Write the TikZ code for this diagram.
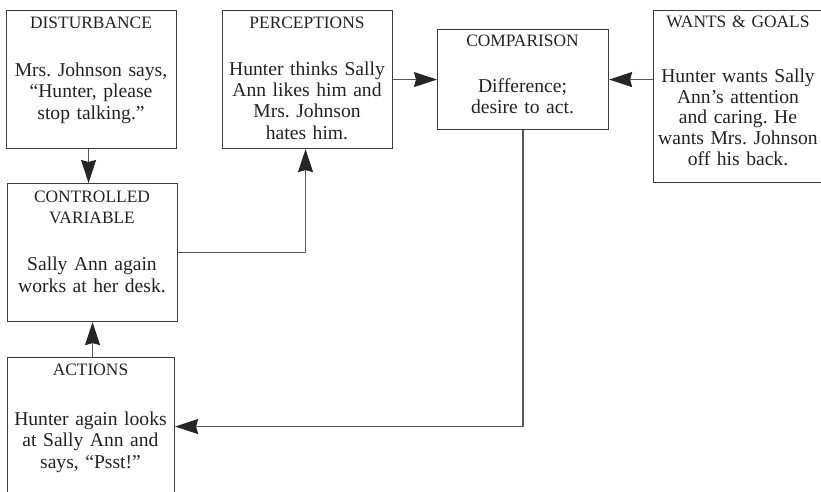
\documentclass[tikz,border=0pt]{standalone}
\usepackage{fontspec}
\setmainfont{Liberation Serif}
\usetikzlibrary{arrows.meta,calc}
\definecolor{txt}{HTML}{222222}
\definecolor{boxln}{HTML}{3C3C3C}
\definecolor{conn}{HTML}{5A5A5A}
\definecolor{tipc}{HTML}{262626}
\frenchspacing
\tikzset{
  box/.style={draw=boxln, line width=1.1pt, rectangle, inner sep=0pt, anchor=north west},
  ttl/.style={text=txt, text width=200pt, align=center, anchor=base, inner sep=0pt,
    font=\frenchspacing\fontsize{17.4}{21}\selectfont},
  bodytxt/.style={text=txt, text width=200pt, align=center, anchor=base, inner sep=0pt,
    font=\frenchspacing\fontsize{19.6}{21.6}\selectfont},
  arr/.style={draw=conn, line width=1.4pt,
    -{Stealth[length=23pt,width=15pt,inset=2pt,fill=tipc,color=tipc]}},
}
\begin{document}
\begin{tikzpicture}[x=1pt,y=-1pt]
\useasboundingbox (0,0) rectangle (821,491);
\clip (0,0) rectangle (821,491);
% boxes
\node[box, minimum width=170pt, minimum height=138pt] (dist) at (6,10) {};
\node[box, minimum width=170pt, minimum height=138pt] (perc) at (222,10) {};
\node[box, minimum width=171pt, minimum height=100pt] (comp) at (437,29) {};
\node[box, minimum width=170pt, minimum height=172pt] (want) at (653,10) {};
\node[box, minimum width=170pt, minimum height=138pt] (ctrl) at (7,183) {};
\node[box, minimum width=167pt, minimum height=138pt] (act) at (7,357) {};
% texts
\node[ttl] (distT) at (91,28) {DISTURBANCE};
\node[bodytxt] (distB) at (91,76) {Mrs. Johnson says,\\“Hunter, please\\stop talking.”};
\node[ttl] (percT) at (307,28) {PERCEPTIONS};
\node[bodytxt, font=\frenchspacing\fontsize{19.6}{21.4}\selectfont] (percB) at (307,75) {Hunter thinks Sally\\Ann likes him and\\Mrs. Johnson\\hates him.};
\node[ttl] (compT) at (522.5,46) {COMPARISON};
\node[bodytxt] (compB) at (522.5,92) {Difference;\\desire to act.};
\node[ttl] (wantT) at (738,27) {WANTS \& GOALS};
\node[bodytxt, font=\frenchspacing\fontsize{19.6}{20.7}\selectfont] (wantB) at (738,82.5) {Hunter wants Sally\\Ann’s attention\\and caring. He\\wants Mrs. Johnson\\off his back.};
\node[ttl] (ctrlT) at (92,202) {CONTROLLED\\VARIABLE};
\node[bodytxt, font=\frenchspacing\fontsize{19.6}{22.5}\selectfont] (ctrlB) at (92,270) {Sally Ann again\\works at her desk.};
\node[ttl] (actT) at (90.5,375) {ACTIONS};
\node[bodytxt] (actB) at (90.5,425) {Hunter again looks\\at Sally Ann and\\says, “Psst!”};
% connectors
\draw[arr] ([xshift=-3pt]dist.south) -- ([xshift=-3pt]dist.south |- ctrl.north);
\draw[arr] (ctrl.east) -| ([xshift=-2pt]perc.south);
\draw[arr] (perc.east) -- (comp.west);
\draw[arr] (want.west |- comp.east) -- (comp.east);
\draw[arr] (comp.south) |- (act.east);
\draw[arr] (ctrl.south |- act.north) -- (ctrl.south);
\end{tikzpicture}
\end{document}
